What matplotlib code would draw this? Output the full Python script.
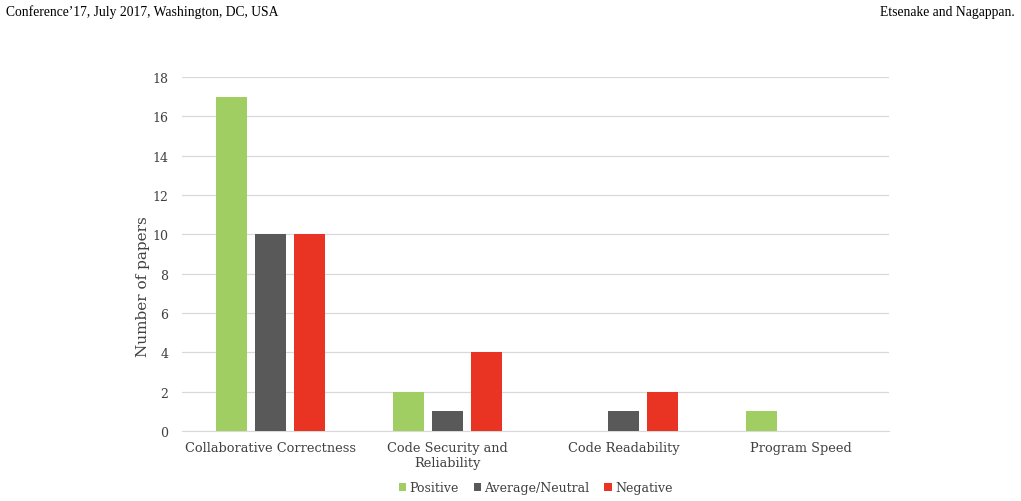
import matplotlib.pyplot as plt
import numpy as np

categories = ['Collaborative Correctness', 'Code Security and\nReliability',
              'Code Readability', 'Program Speed']
positive = [17, 2, 0, 1]
neutral = [10, 1, 1, 0]
negative = [10, 4, 2, 0]
series = [('Positive', positive, '#A0CE63'),
          ('Average/Neutral', neutral, '#595959'),
          ('Negative', negative, '#E93323')]

plt.rcParams['font.family'] = ['DejaVu Serif']
fig = plt.figure(figsize=(10.21, 5.02), dpi=100)
ax = fig.add_axes([0.1783, 0.1394, 0.6925, 0.7052])

x = np.arange(len(categories))
w = 0.175
step = 0.22
for i, (name, vals, col) in enumerate(series):
    ax.bar(x + (i - 1) * step, vals, w, color=col, label=name, zorder=3)

ax.set_xlim(-0.5, 3.5)
ax.set_ylim(0, 18)
ax.set_yticks(range(0, 19, 2))
ax.set_xticks(x)
ax.set_xticklabels(categories, fontsize=9.3, color='#404040', linespacing=1.25)
ax.tick_params(axis='y', labelsize=9, colors='#404040', length=0, pad=10)
ax.tick_params(axis='x', length=0, pad=7)
ax.grid(axis='y', color='#D9D9D9', linewidth=0.9, zorder=0)
for s in ['top', 'right', 'left']:
    ax.spines[s].set_visible(False)
ax.spines['bottom'].set_color('#D9D9D9')
ax.set_ylabel('Number of papers', fontsize=11, color='#404040')
ax.yaxis.set_label_coords(-0.046, 0.41)

ax.legend(loc='center', bbox_to_anchor=(0.5, -0.16), ncol=3, frameon=False,
          fontsize=9, handlelength=0.6, handleheight=0.6, handletextpad=0.25,
          columnspacing=1.2, labelcolor='#404040')

fig.text(0.006, 0.975, "Conference\u201917, July 2017, Washington, DC, USA",
         fontsize=9.8, family='Liberation Serif', va='center')
fig.text(0.994, 0.975, "Etsenake and Nagappan.", fontsize=9.8,
         family='Liberation Serif', va='center', ha='right')

fig.savefig('out.png')
